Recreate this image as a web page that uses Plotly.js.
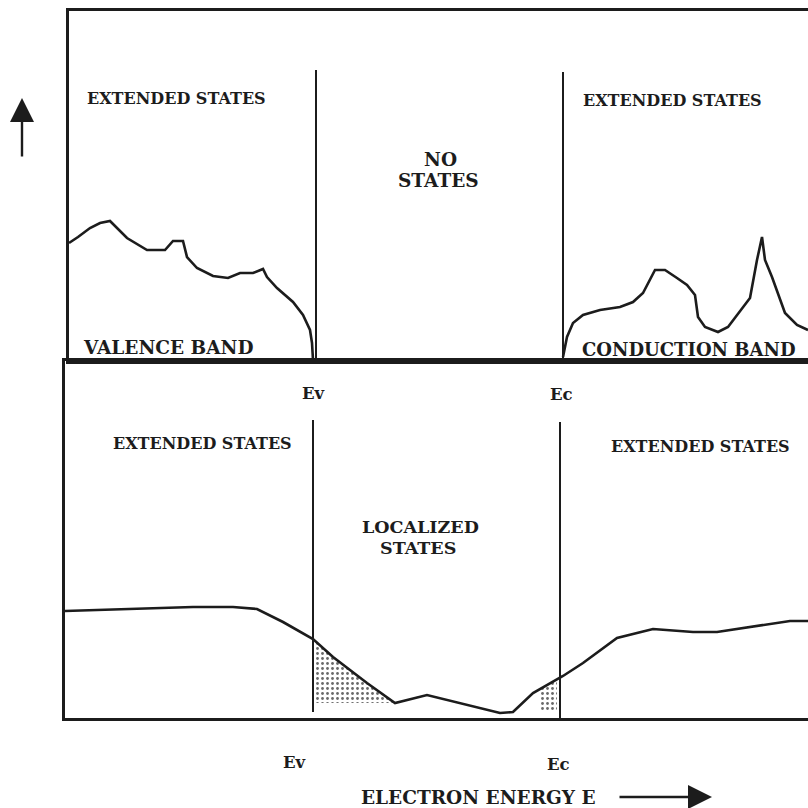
<!DOCTYPE html>
<html>
<head>
<meta charset="utf-8">
<script src="https://cdn.plot.ly/plotly-3.0.1.min.js"></script>
<style>html,body{margin:0;padding:0;background:#fff;}</style>
</head>
<body>
<div id="chart" style="width:808px;height:808px;"></div>
<script>
// ---- Data (energy in arbitrary units, density of states in arbitrary units) ----
// Crystalline (top panel)
const vbEnergy = [69,78,90,100,110,117,127,147,165,173,183,187,197,213,228,240,253,263,267,277,293,303,310,312,313];
const vbDos    = [118,124,133,138,140,133,123,111,111,120,120,104,93,85,83,88,88,92,84,73,59,46,31,18,1];
const cbEnergy = [563,567,573,583,600,620,633,643,655,665,677,687,695,698,705,718,728,737,750,757,762,765,772,785,797,808];
const cbDos    = [4,24,38,46,51,54,59,68,91,91,83,76,66,44,34,29,34,46,63,101,124,101,84,48,36,31];
const EvTop = 316, EcTop = 563;
const edgeTopEvDos = [0, 291];
const edgeTopEcDos = [0, 289];
// Amorphous (bottom panel)
const amEnergy = [65,127,167,193,233,257,283,313,333,367,395,427,500,513,533,557,563,583,617,653,693,717,750,790,808];
const amDos    = [107,109,110,111,111,109,96,79,61,35,15,23,5,6,25,39,42,55,80,89,86,86,91,97,97];
const tailVEnergy = [313,333,367,395];
const tailVDos    = [79,61,35,15];
const tailVBase   = [15,15,15,15];
const tailCEnergy = [541,549,557];
const tailCDos    = [29,34,39];
const tailCBase   = [6,6,6];
const EvBot = 313, EcBot = 560;
const edgeBotEvDos = [6, 298];
const edgeBotEcDos = [0, 296];
// Labels
const topLabels = ["EXTENDED STATES","NO","STATES","EXTENDED STATES","VALENCE BAND","CONDUCTION BAND"];
const botLabels = ["EXTENDED STATES","LOCALIZED","STATES","EXTENDED STATES"];
const edgeLabels = ["Ev","Ec"];
const axisLabel = "ELECTRON ENERGY E";

const ink = '#1c1c1c';
const W = 808, H = 808;
const px = v => v / W;
const py = v => 1 - v / H;

const lineStyle = {color: ink, width: 2.6, shape: 'linear'};
const edgeStyle = {color: ink, width: 2};
const clear = {width: 0, color: 'rgba(0,0,0,0)'};
const stipple = {shape: '.', fgcolor: '#6a6a6a', bgcolor: 'rgba(255,255,255,0)', size: 5, solidity: 0.25};

const traces = [
  {x: vbEnergy, y: vbDos, xaxis: 'x', yaxis: 'y', mode: 'lines', line: lineStyle, hoverinfo: 'skip'},
  {x: cbEnergy, y: cbDos, xaxis: 'x', yaxis: 'y', mode: 'lines', line: lineStyle, hoverinfo: 'skip'},
  {x: [EvTop, EvTop], y: edgeTopEvDos, xaxis: 'x', yaxis: 'y', mode: 'lines', line: edgeStyle, hoverinfo: 'skip'},
  {x: [EcTop, EcTop], y: edgeTopEcDos, xaxis: 'x', yaxis: 'y', mode: 'lines', line: edgeStyle, hoverinfo: 'skip'},
  // band-tail shading (bottom panel)
  {x: tailVEnergy, y: tailVBase, xaxis: 'x2', yaxis: 'y2', mode: 'lines', line: clear, hoverinfo: 'skip'},
  {x: tailVEnergy, y: tailVDos, xaxis: 'x2', yaxis: 'y2', mode: 'lines', line: clear, fill: 'tonexty',
   fillcolor: 'rgba(0,0,0,0)', fillpattern: stipple, hoverinfo: 'skip'},
  {x: tailCEnergy, y: tailCBase, xaxis: 'x2', yaxis: 'y2', mode: 'lines', line: clear, hoverinfo: 'skip'},
  {x: tailCEnergy, y: tailCDos, xaxis: 'x2', yaxis: 'y2', mode: 'lines', line: clear, fill: 'tonexty',
   fillcolor: 'rgba(0,0,0,0)', fillpattern: stipple, hoverinfo: 'skip'},
  {x: amEnergy, y: amDos, xaxis: 'x2', yaxis: 'y2', mode: 'lines', line: lineStyle, hoverinfo: 'skip'},
  {x: [EvBot, EvBot], y: edgeBotEvDos, xaxis: 'x2', yaxis: 'y2', mode: 'lines', line: edgeStyle, hoverinfo: 'skip'},
  {x: [EcBot, EcBot], y: edgeBotEcDos, xaxis: 'x2', yaxis: 'y2', mode: 'lines', line: edgeStyle, hoverinfo: 'skip'}
];

const axBase = {showgrid: false, zeroline: false, showticklabels: false, ticks: '', showline: true,
                mirror: true, linecolor: ink, linewidth: 2.6, fixedrange: true};

const font = (s) => ({family: 'DejaVu Serif, Liberation Serif, serif', size: s, color: ink, weight: 'bold'});
const lab = (text, x, y, s) => ({text: text, xref: 'paper', yref: 'paper', x: px(x), y: py(y),
  xanchor: 'center', yanchor: 'middle', showarrow: false, font: font(s)});

const annotations = [
  lab(topLabels[0], 176, 98, 16),
  lab(topLabels[1], 440, 159, 18.5),
  lab(topLabels[2], 438, 181, 18.5),
  lab(topLabels[3], 672, 100, 16),
  lab(topLabels[4], 168, 347, 18.5),
  lab(topLabels[5], 689, 350, 18),
  lab(edgeLabels[0], 313, 393, 16.5),
  lab(edgeLabels[1], 561, 394, 16.5),
  lab(botLabels[0], 202, 443, 16),
  lab(botLabels[1], 420, 527, 17.5),
  lab(botLabels[2], 418, 548, 17.5),
  lab(botLabels[3], 700, 446, 16),
  lab(edgeLabels[0], 294, 762, 16.5),
  lab(edgeLabels[1], 558, 764, 16.5),
  lab(axisLabel, 478, 797, 18.5),
  {text: '', xref: 'paper', yref: 'paper', x: px(712), y: py(797), ax: -94, ay: 0, axref: 'pixel', ayref: 'pixel',
   showarrow: true, arrowhead: 2, arrowsize: 2, arrowwidth: 2.4, arrowcolor: ink},
  {text: '', xref: 'paper', yref: 'paper', x: px(22), y: py(98), ax: 0, ay: 60, axref: 'pixel', ayref: 'pixel',
   showarrow: true, arrowhead: 2, arrowsize: 2, arrowwidth: 2.4, arrowcolor: ink}
];

const layout = {
  width: W, height: H,
  margin: {l: 0, r: 0, t: 0, b: 0},
  paper_bgcolor: '#fff', plot_bgcolor: '#fff',
  showlegend: false,
  xaxis: Object.assign({}, axBase, {domain: [px(69), 1], range: [69, 808], anchor: 'y'}),
  yaxis: Object.assign({}, axBase, {domain: [py(361), py(11)], range: [0, 350], anchor: 'x'}),
  xaxis2: Object.assign({}, axBase, {domain: [px(65), 1], range: [65, 808], anchor: 'y2'}),
  yaxis2: Object.assign({}, axBase, {domain: [py(718), py(361)], range: [0, 357], anchor: 'x2'}),
  annotations: annotations
};

Plotly.newPlot('chart', traces, layout, {staticPlot: true, displayModeBar: false});
</script>
</body>
</html>
